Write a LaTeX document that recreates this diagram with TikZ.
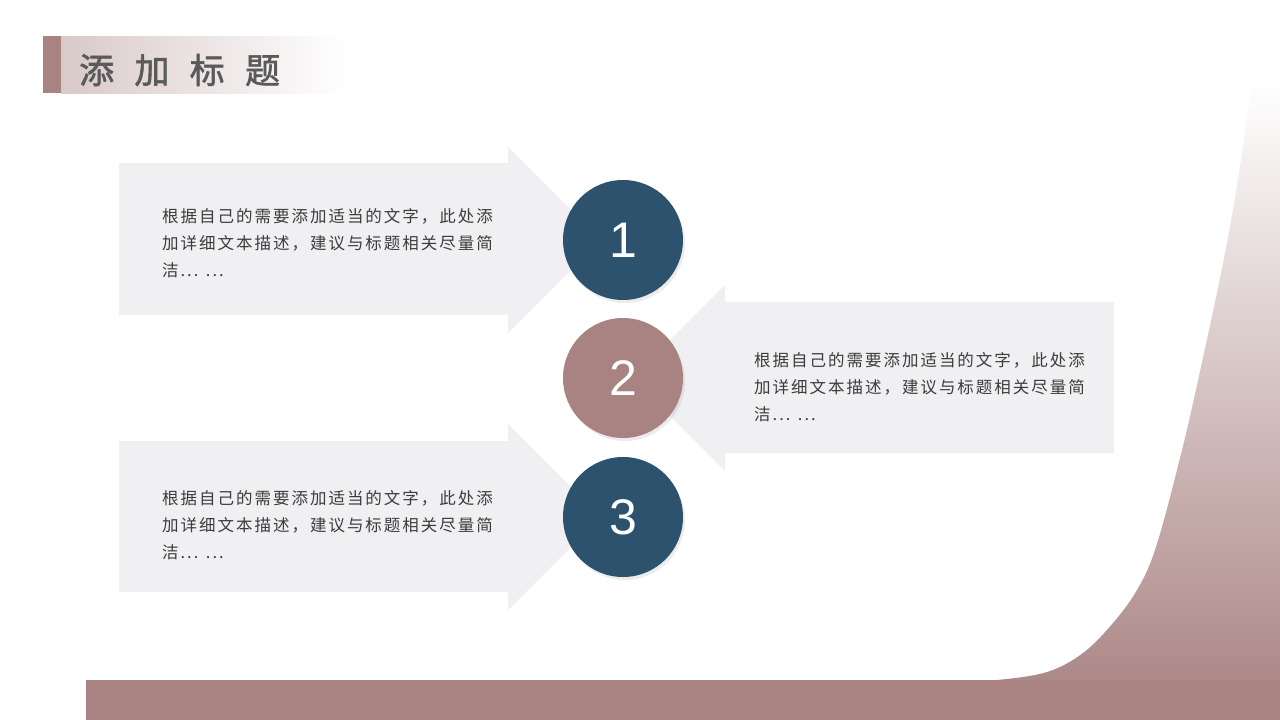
\documentclass[tikz,border=0pt]{standalone}
\usepackage{fontspec}
\newfontfamily\cjkbody[LetterSpace=12]{Noto Sans CJK SC}
\newfontfamily\cjktitle[LetterSpace=58,FakeBold=1.6]{Noto Sans CJK SC}
\newfontfamily\numfont{Liberation Sans}
\usetikzlibrary{positioning,%
                shadows}
\definecolor{slateblue}{HTML}{2C526E}
\definecolor{mauve}{HTML}{A88382}
\definecolor{mauvelight}{HTML}{D9C9C9}
\definecolor{panelgray}{HTML}{F0F0F2}
\definecolor{bodygray}{HTML}{3C3C3C}
\definecolor{titlegray}{HTML}{5A5A5A}

\begin{document}
\begin{tikzpicture}[x=1pt,y=-1pt]
  \tikzset{panel/.style = {fill=panelgray},
           numdisc/.style = {circle, minimum size=120pt, inner sep=0pt,
                             text=white, font=\numfont\fontsize{50}{50}\selectfont,
                             drop shadow={shadow xshift=2pt, shadow yshift=-3pt,
                                          opacity=.12, fill=black!60}},
           bodytext/.style = {anchor=north west, inner sep=0pt, align=left,
                              text=bodygray,
                              font=\cjkbody\fontsize{16.5}{27}\selectfont}}
  \useasboundingbox (0,0) rectangle (1280,720);
  \fill[white] (0,0) rectangle (1280,720);

  % right side backdrop
  \shade[top color=white, bottom color=mauve!95]
    (1280,83) -- (1252,83)
    -- plot[smooth, tension=.6] coordinates {(1252,83) (1230,227) (1197,385)
      (1177,470) (1155,550) (1137,590) (1113,623) (1083,653) (1047,672)
      (997,680) (960,681)}
    -- (1280,681) -- cycle;
  \fill[mauve] (86,680) rectangle (1280,720);

  % title
  \fill[mauve] (43,36) rectangle (61,93);
  \shade[left color=mauvelight, right color=white] (61,36) rectangle (345,93);
  \node[anchor=west, inner sep=0pt, text=titlegray,
        font=\cjktitle\fontsize{35}{35}\selectfont] (title) at (79,70) {添加标题};

  % arrows
  \fill[panel] (119,163) -- (508,163) -- (508,147) -- (601,240)
    -- (508,333) -- (508,315) -- (119,315) -- cycle;
  \fill[panel] (1114,302) -- (725,302) -- (725,285) -- (632,378)
    -- (725,471) -- (725,453) -- (1114,453) -- cycle;
  \fill[panel] (119,441) -- (508,441) -- (508,424) -- (601,517)
    -- (508,610) -- (508,592) -- (119,592) -- cycle;

  % discs
  \node[numdisc, fill=slateblue] (1) at (623,240) {1};
  \node[numdisc, fill=mauve] (2) at (623,378) {2};
  \node[numdisc, fill=slateblue] (3) at (623,517) {3};

  % texts
  \node[bodytext] (t1) at (162,208)
    {根据自己的需要添加适当的文字，此处添\\加详细文本描述，建议与标题相关尽量简\\洁... ...};
  \node[bodytext] (t2) at (754,352)
    {根据自己的需要添加适当的文字，此处添\\加详细文本描述，建议与标题相关尽量简\\洁... ...};
  \node[bodytext] (t3) at (162,490)
    {根据自己的需要添加适当的文字，此处添\\加详细文本描述，建议与标题相关尽量简\\洁... ...};
\end{tikzpicture}
\end{document}
